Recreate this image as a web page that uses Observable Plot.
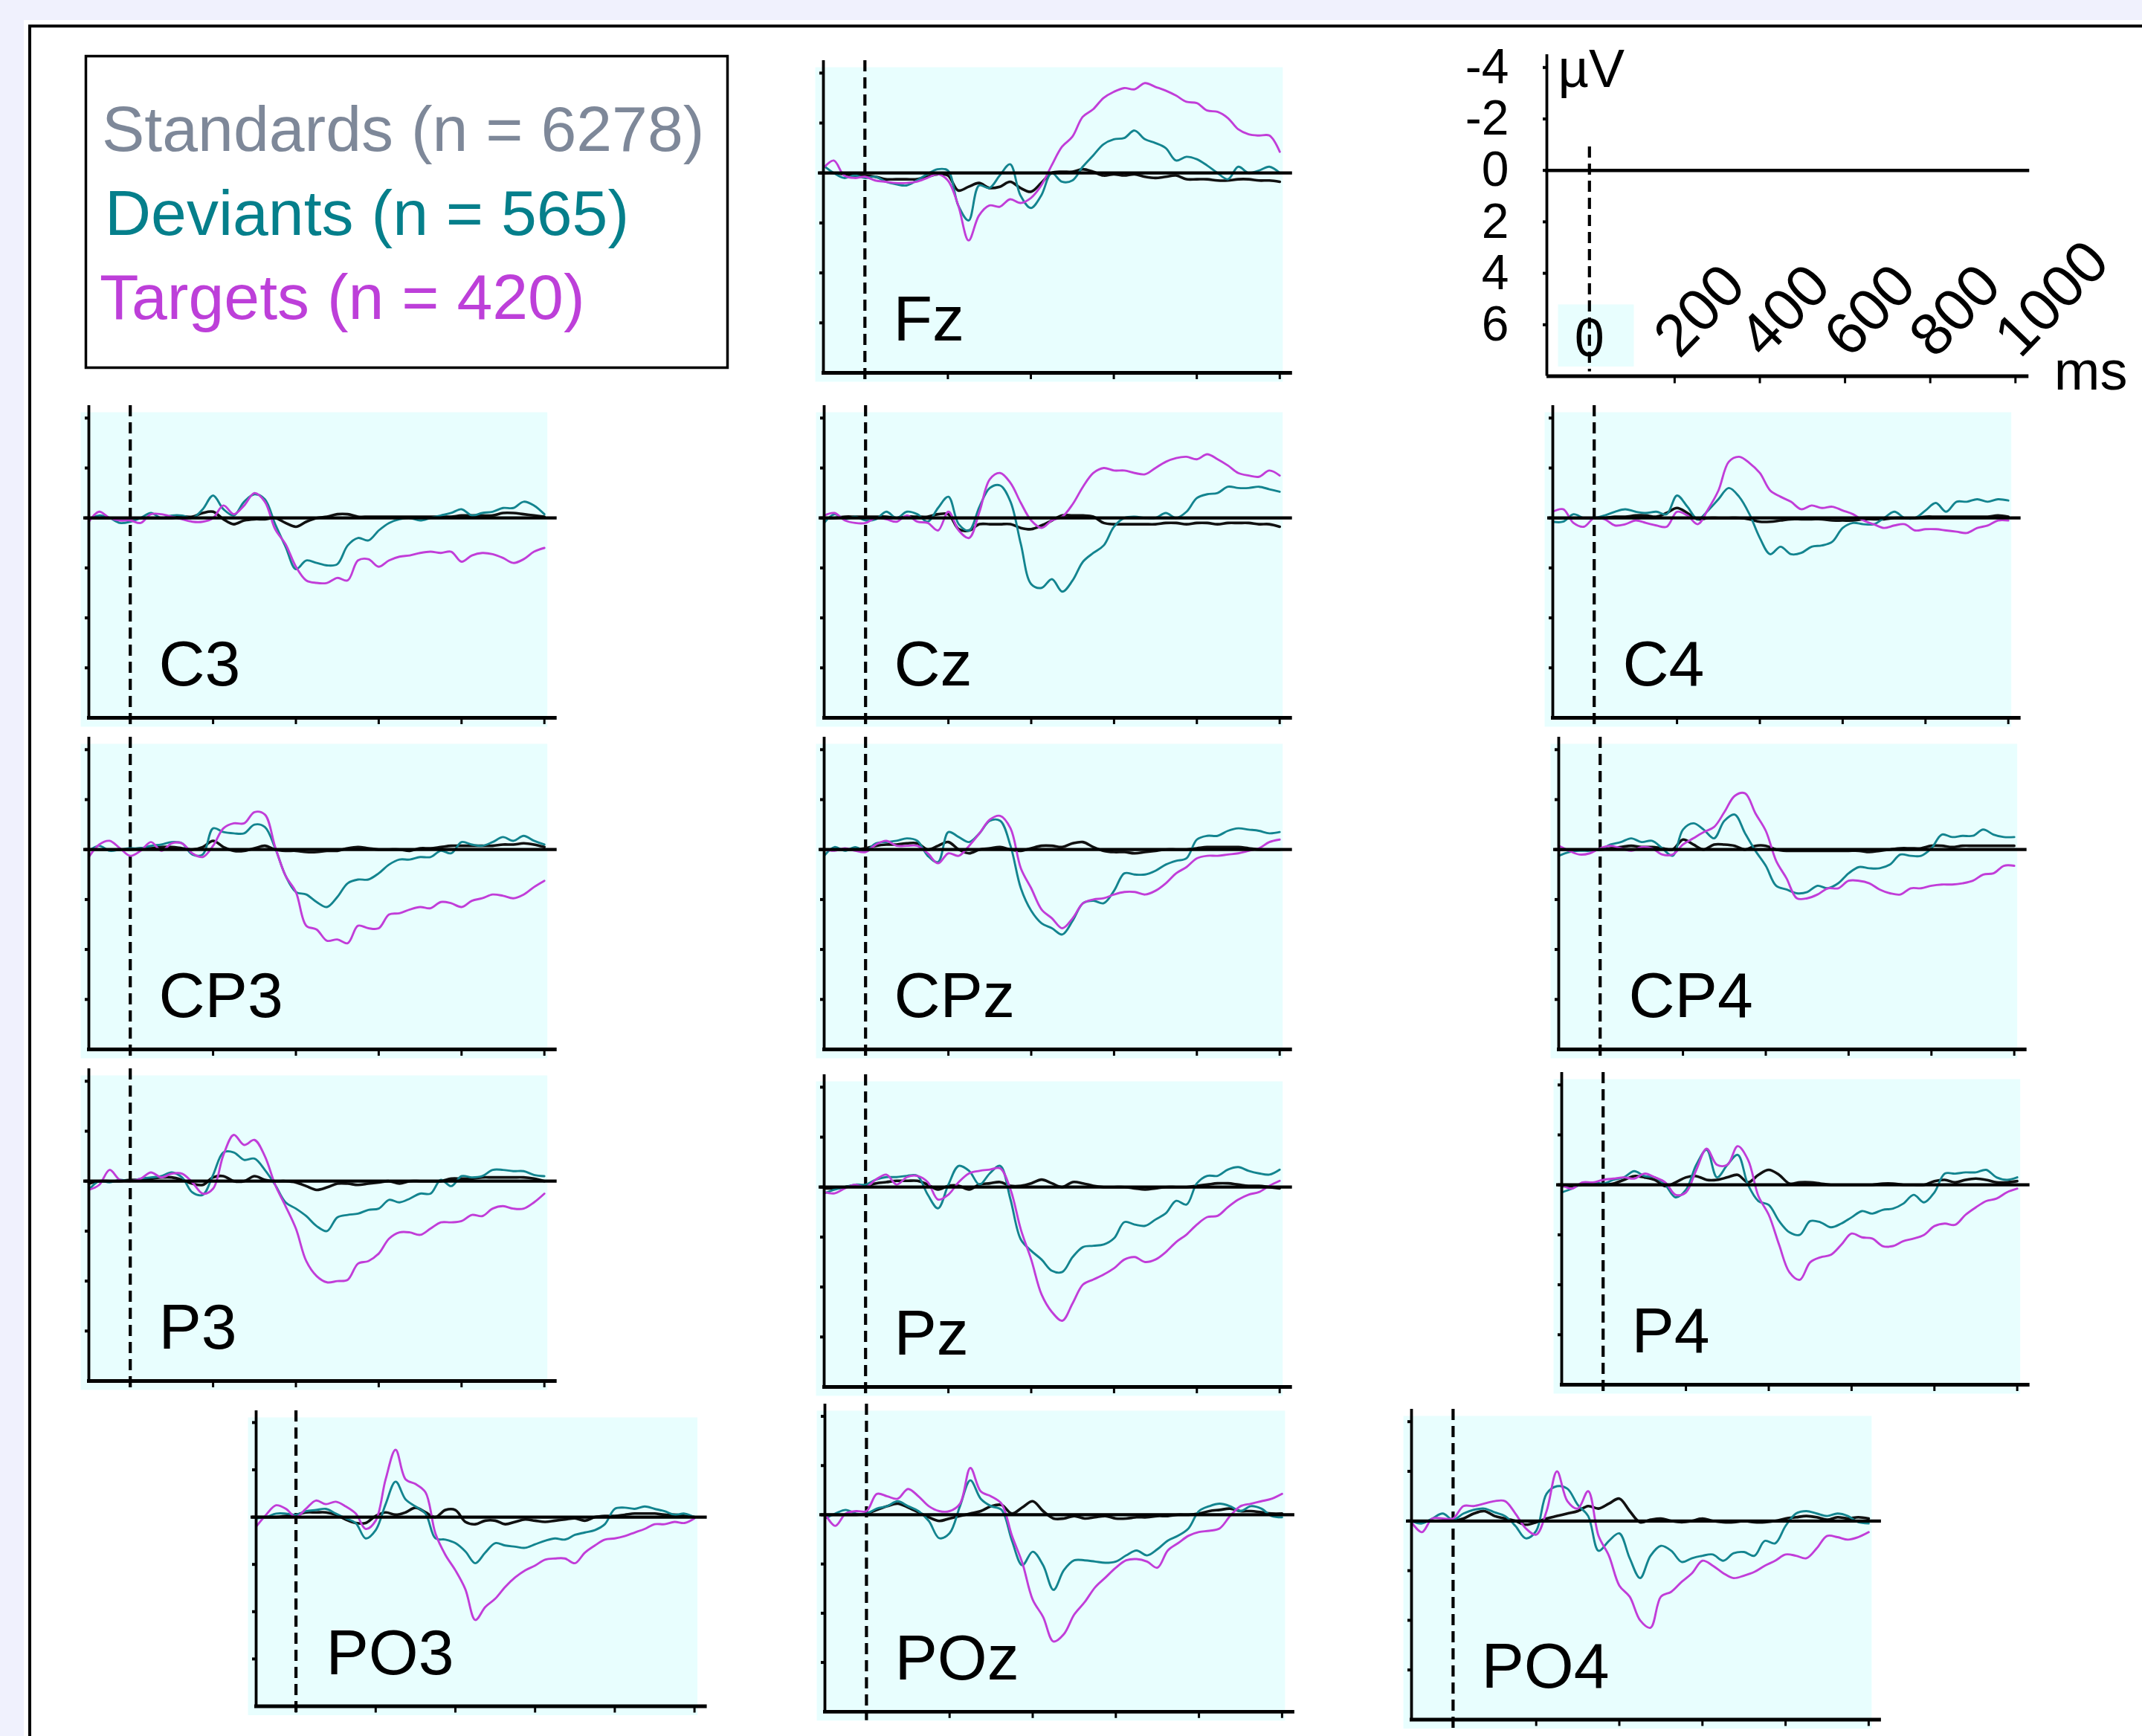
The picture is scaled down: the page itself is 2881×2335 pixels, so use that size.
<!DOCTYPE html>
<html><head><meta charset="utf-8">
<script src="https://cdn.jsdelivr.net/npm/d3@7"></script>
<script src="https://cdn.jsdelivr.net/npm/@observablehq/plot@0.6"></script>
<style>
html,body{margin:0;padding:0;background:#f0f1fd;}
#page{position:relative;width:2881px;height:2335px;overflow:hidden;background:#f0f1fd;font-family:"Liberation Sans",Arial,Helvetica,sans-serif;}
#sheet{position:absolute;left:32px;top:27px;right:-20px;bottom:-20px;background:#fff;}
#border{position:absolute;left:38px;top:33px;right:-20px;bottom:-20px;border-left:4px solid #000;border-top:4px solid #000;}
</style></head>
<body><div id="page"><div id="sheet"></div><div id="border"></div></div>
<script>
// ---- sample times (ms) and axis values ----
const TIMES = [-100,-75,-50,-25,0,25,50,75,100,125,150,175,200,225,250,275,300,325,350,375,400,425,450,475,500,525,550,575,600,625,650,675,700,725,750,775,800,825,850,875,900,925,950,975,1000];
const X_DOMAIN = [-100, 1000];
const Y_DOMAIN = [8, -4.5];
const X_TICKS = [0, 200, 400, 600, 800, 1000];
const Y_TICKS = [-4, -2, 0, 2, 4, 6];
const SERIES = ["Standards", "Deviants", "Targets"];
const COUNTS = [6278, 565, 420];

// ---- amplitudes (µV) per electrode: standards / deviants / targets ----
const FZ_STD = [0,0,0.05,0.1,0.1,0.15,0.25,0.25,0.25,0.25,0.15,0.05,0.1,0.7,0.55,0.4,0.6,0.55,0.35,0.6,0.75,0.4,0,-0.05,-0.05,-0.15,-0.05,0.1,0.05,0.1,0.05,0.15,0.2,0.15,0.1,0.25,0.25,0.25,0.3,0.3,0.25,0.25,0.3,0.3,0.35];
const FZ_DEV = [-0.3,0,0.2,0.1,0.2,0.15,0.35,0.45,0.5,0.3,0.05,-0.15,-0.1,1.3,1.9,0.5,0.6,0.1,-0.35,0.9,1.4,0.9,0,0.35,0.3,-0.25,-0.7,-1.15,-1.35,-1.4,-1.7,-1.35,-1.2,-1.0,-0.5,-0.65,-0.55,-0.3,0,0.25,-0.25,0,-0.1,-0.25,0];
const FZ_TGT = [-0.2,-0.5,0.1,0.2,0.15,0.3,0.35,0.4,0.4,0.35,0.2,0.05,0.3,1.3,2.7,1.7,1.3,1.35,1.05,1.2,1.0,0.5,-0.3,-1.05,-1.45,-2.25,-2.55,-3.0,-3.25,-3.4,-3.35,-3.6,-3.45,-3.3,-3.1,-2.85,-2.8,-2.5,-2.45,-2.2,-1.75,-1.55,-1.5,-1.5,-0.85];

const C3_STD = [0,0,0,0,0,0,0,0,0,-0.05,-0.05,-0.2,-0.25,0.05,0.25,0.1,0.05,0.05,0,0.2,0.35,0.15,0,-0.05,-0.15,-0.15,-0.05,-0.05,-0.05,-0.05,-0.05,-0.05,-0.05,-0.05,-0.05,-0.05,-0.1,-0.1,-0.1,-0.1,-0.2,-0.2,-0.15,-0.1,-0.05];
const C3_DEV = [0.05,-0.1,0,0.2,0.15,0,-0.2,0,-0.1,-0.1,0,-0.35,-0.9,-0.35,-0.1,-0.65,-0.95,-0.75,0.25,1.15,2.05,1.7,1.8,1.9,1.85,1.1,0.8,0.9,0.5,0.2,0.05,0,0.1,0,-0.1,-0.2,-0.35,-0.1,-0.2,-0.25,-0.4,-0.4,-0.65,-0.5,-0.15];
const C3_TGT = [0.15,-0.25,0,0.1,0.1,0.2,-0.15,-0.15,-0.05,0.05,0.15,0.15,0,-0.5,-0.15,-0.5,-1.0,-0.65,0.45,1.05,1.95,2.5,2.6,2.6,2.4,2.5,1.7,1.65,1.95,1.7,1.55,1.5,1.4,1.35,1.4,1.35,1.75,1.5,1.4,1.45,1.6,1.8,1.65,1.35,1.2];

const CZ_STD = [0,0,-0.05,-0.05,-0.05,-0.05,-0.05,0,-0.05,-0.05,-0.05,-0.15,-0.15,0.45,0.5,0.25,0.25,0.25,0.25,0.4,0.45,0.3,0.1,-0.1,-0.1,-0.1,-0.05,0.2,0.25,0.25,0.25,0.25,0.25,0.2,0.2,0.25,0.2,0.2,0.25,0.2,0.2,0.2,0.25,0.25,0.35];
const CZ_DEV = [0.2,-0.15,0.05,-0.05,0.1,0.05,-0.25,0,-0.25,-0.15,0.15,-0.4,-0.85,0.25,0.5,-0.45,-1.2,-1.3,-0.65,1.05,2.65,2.8,2.45,2.95,2.5,1.75,1.4,1.1,0.35,0,-0.05,0,0,-0.2,0,-0.25,-0.8,-0.95,-1.0,-1.25,-1.2,-1.2,-1.25,-1.15,-1.05];
const CZ_TGT = [-0.1,-0.2,0.1,0.2,0.2,0,0.05,0.15,-0.1,0.15,0.2,0.5,-0.25,0.5,0.8,-0.25,-1.55,-1.8,-1.4,-0.6,0.1,0.4,0.1,-0.05,-0.55,-1.25,-1.8,-2.0,-1.9,-1.9,-1.8,-1.75,-2.0,-2.25,-2.4,-2.45,-2.35,-2.55,-2.35,-2.1,-1.8,-1.7,-1.65,-1.9,-1.7];

const C4_STD = [0,0,0,0,0,0,-0.05,-0.05,-0.1,-0.1,-0.05,-0.2,-0.4,-0.2,0.05,0,0,0,0,0.05,0.15,0.15,0.1,0.05,0.05,0.05,0.05,0.1,0.1,0.1,0.05,0.05,0.05,0,0,0,-0.05,-0.05,-0.05,-0.05,-0.05,-0.05,-0.05,-0.1,-0.05];
const C4_DEV = [0.15,0.15,-0.15,0,0,-0.1,-0.25,-0.35,-0.25,-0.2,-0.25,-0.15,-0.9,-0.45,0.05,-0.3,-0.75,-1.2,-0.85,-0.15,0.8,1.45,1.15,1.45,1.4,1.15,1.1,0.95,0.4,0.2,0.25,0.25,0,-0.25,0,0,-0.3,-0.6,-0.25,-0.65,-0.65,-0.75,-0.65,-0.75,-0.7];
const C4_TGT = [-0.25,-0.35,0.2,0.35,0,0.05,0.3,0.25,0.1,0.2,0.3,0.35,-0.25,-0.1,0.25,-0.35,-1.1,-2.25,-2.45,-2.2,-1.8,-1.1,-0.85,-0.65,-0.35,-0.5,-0.4,-0.45,-0.3,-0.15,0.1,0.25,0.4,0.3,0.25,0.5,0.45,0.45,0.5,0.55,0.6,0.4,0.3,0.1,0.1];

const CP3_STD = [0,0,0,0,0,-0.05,-0.05,-0.1,-0.1,-0.05,0,-0.1,-0.35,-0.1,0.05,0.05,-0.05,-0.15,0,0.05,0.05,0.1,0.1,0.05,0.05,-0.05,-0.1,-0.05,0,0,0,0.05,-0.05,-0.05,-0.1,-0.15,-0.15,-0.15,-0.15,-0.15,-0.2,-0.2,-0.25,-0.2,-0.1];
const CP3_DEV = [0.05,-0.15,0.05,0,-0.05,-0.05,-0.15,-0.2,-0.3,-0.25,0.2,0.2,-0.85,-0.7,-0.65,-0.65,-1.0,-0.9,-0.05,1.05,1.7,1.8,2.1,2.3,1.9,1.35,1.2,1.2,0.95,0.6,0.4,0.4,0.3,0.3,0.05,0.15,-0.3,-0.2,-0.15,-0.3,-0.5,-0.35,-0.55,-0.35,-0.2];
const CP3_TGT = [0.3,-0.2,-0.35,-0.05,0.25,0.05,-0.3,0.05,-0.25,-0.25,0.15,0.3,-0.15,-0.85,-1.05,-1.05,-1.5,-1.4,-0.1,1.05,1.7,3.05,3.2,3.65,3.6,3.75,3.05,3.15,3.15,2.6,2.55,2.4,2.3,2.35,2.1,2.15,2.3,2.05,1.95,1.8,1.85,1.95,1.8,1.5,1.25];

const CPZ_STD = [0,0,0,0,-0.05,-0.15,-0.2,-0.2,-0.25,-0.25,0,-0.15,-0.3,0,0.15,0,-0.05,-0.1,0,0.05,-0.05,-0.15,-0.15,-0.1,-0.25,-0.3,-0.1,0.05,0.1,0.1,0.15,0.1,0.05,0,0,0,-0.05,-0.1,-0.1,-0.1,-0.1,-0.05,0,0,0];
const CPZ_DEV = [0.25,-0.1,0.05,-0.1,0.05,-0.25,-0.3,-0.35,-0.45,-0.35,0.25,0.5,-0.7,-0.5,-0.3,-0.65,-1.15,-1.15,-0.15,1.55,2.45,2.95,3.15,3.4,2.85,2.15,2.05,2.15,1.65,0.95,1.0,1.0,0.85,0.6,0.45,0.35,-0.4,-0.55,-0.55,-0.75,-0.85,-0.8,-0.75,-0.65,-0.7];
const CPZ_TGT = [0,0.05,-0.05,0.05,0.1,-0.2,-0.35,-0.15,-0.15,-0.15,0.15,0.55,0.15,0.25,-0.15,-0.65,-1.2,-1.35,-0.85,0.75,1.55,2.4,2.75,3.15,2.75,2.15,2.0,1.95,1.8,1.7,1.7,1.8,1.65,1.35,0.95,0.7,0.35,0.25,0.25,0.2,0.15,0.05,-0.05,-0.3,-0.4];

const CP4_STD = [0,0,0,0,0,-0.05,-0.1,-0.15,-0.1,-0.1,-0.05,0,-0.4,-0.2,0,-0.2,-0.2,-0.15,0,-0.15,-0.15,0,0.05,0.05,0.05,0.05,0.05,0.05,0.05,0.05,0.1,0.05,0,-0.05,-0.05,-0.05,-0.15,-0.15,-0.1,-0.15,-0.15,-0.15,-0.15,-0.15,-0.15];
const CP4_DEV = [0.25,0.1,0.05,0.05,0,-0.2,-0.3,-0.45,-0.3,-0.35,-0.05,0.25,-0.8,-1.05,-0.8,-0.45,-1.15,-1.4,-0.65,0.05,0.65,1.45,1.6,1.75,1.7,1.45,1.55,1.35,0.95,0.7,0.75,0.75,0.6,0.2,0.25,0.25,-0.05,-0.6,-0.5,-0.55,-0.55,-0.8,-0.6,-0.5,-0.5];
const CP4_TGT = [-0.15,0.05,0.2,0.15,-0.05,-0.15,-0.05,0.05,-0.1,-0.05,0.2,0.2,-0.2,-0.45,-0.7,-0.9,-1.5,-2.15,-2.25,-1.45,-0.75,0.45,1.15,1.95,1.95,1.8,1.55,1.55,1.25,1.25,1.35,1.6,1.75,1.8,1.55,1.55,1.45,1.4,1.4,1.35,1.25,1.0,0.95,0.65,0.65];

const P3_STD = [0.1,0,0,0,-0.05,-0.05,-0.1,-0.15,-0.15,-0.05,0.1,0.15,-0.15,-0.2,0,0,-0.2,-0.05,0,0,0.05,0.2,0.35,0.25,0.1,0.1,0.15,0.1,0.05,0,0.1,0,0,0,0,-0.1,-0.1,-0.1,-0.15,-0.15,-0.15,-0.15,-0.15,-0.1,0];
const P3_DEV = [0.35,0,0.05,-0.05,0,-0.1,-0.15,-0.2,-0.35,-0.15,0.45,0.55,-0.25,-1.15,-1.15,-0.85,-0.9,-0.45,0.15,0.85,1.1,1.4,1.8,2.0,1.45,1.35,1.3,1.15,1.1,0.75,0.85,0.7,0.5,0.5,-0.05,0.2,-0.2,-0.15,-0.2,-0.45,-0.45,-0.4,-0.4,-0.25,-0.2];
const P3_TGT = [0.35,0.15,-0.45,-0.05,0,-0.1,-0.35,-0.15,-0.3,-0.3,0.05,0.5,0.3,-1.05,-1.85,-1.45,-1.65,-1.0,0.15,1.0,1.9,3.2,3.8,4.05,4.0,3.95,3.3,3.2,2.9,2.3,2.05,2.05,2.15,1.9,1.65,1.65,1.6,1.35,1.4,1.1,1.0,1.1,1.1,0.85,0.5];

const PZ_STD = [0.05,0.05,0,-0.05,-0.05,-0.15,-0.2,-0.25,-0.25,-0.25,-0.1,0.1,-0.05,-0.05,0.1,-0.1,-0.15,-0.2,-0.05,-0.05,-0.15,-0.3,-0.15,0,-0.2,-0.15,-0.05,0,0,0,0.05,0.1,0.05,0,0,0,-0.05,-0.1,-0.15,-0.15,-0.1,-0.05,-0.05,0,0.05];
const PZ_DEV = [0.25,0.1,0,-0.1,-0.1,-0.3,-0.4,-0.4,-0.45,-0.45,0.3,0.85,-0.1,-0.85,-0.65,-0.1,-0.55,-0.85,0.5,2.1,2.55,2.9,3.35,3.4,2.8,2.4,2.35,2.3,2.05,1.4,1.5,1.55,1.3,1.05,0.55,0.7,-0.15,-0.45,-0.45,-0.7,-0.8,-0.65,-0.55,-0.5,-0.7];
const PZ_TGT = [0.2,0.25,0.05,-0.1,0,-0.3,-0.5,-0.1,-0.4,-0.45,-0.2,0.5,0.3,-0.2,-0.55,-0.65,-0.7,-0.75,0.1,1.7,2.9,4.3,5.0,5.35,4.65,3.9,3.7,3.5,3.25,2.9,2.8,3.0,2.9,2.6,2.2,1.9,1.5,1.2,1.15,0.8,0.5,0.3,0.2,-0.05,-0.25];

const P4_STD = [0.05,0.05,0,0,0,-0.05,-0.2,-0.35,-0.3,-0.2,0.05,-0.1,-0.3,-0.35,-0.2,-0.2,-0.3,-0.4,-0.1,-0.4,-0.6,-0.4,-0.05,-0.1,-0.1,-0.05,0,0,0,0,0,-0.05,-0.05,0,0,0,-0.15,-0.2,-0.1,-0.2,-0.25,-0.2,-0.1,-0.1,-0.15];
const P4_DEV = [0.3,0.15,-0.05,-0.1,-0.05,-0.2,-0.3,-0.55,-0.35,-0.3,0,0.5,0.2,-0.8,-1.4,-0.3,-0.8,-1.2,0,0.65,0.8,1.45,1.9,2.0,1.45,1.5,1.7,1.55,1.3,1.05,1.15,1.0,0.95,0.75,0.4,0.7,0.3,-0.45,-0.45,-0.5,-0.5,-0.6,-0.3,-0.2,-0.3];
const P4_TGT = [0,0.15,-0.1,-0.1,-0.2,-0.25,-0.3,-0.25,-0.45,-0.3,-0.1,0.4,0.3,-0.6,-1.45,-0.8,-0.8,-1.55,-1.0,0.45,1.2,2.4,3.5,3.8,3.1,2.9,2.8,2.4,1.95,2.1,2.15,2.45,2.45,2.25,2.15,2.0,1.65,1.55,1.6,1.2,0.9,0.65,0.55,0.3,0.15];

const PO3_STD = [0,0,0,-0.05,-0.1,-0.2,-0.2,-0.2,-0.1,0.1,0.25,0.25,-0.05,-0.2,-0.1,-0.2,-0.4,-0.2,0,-0.3,-0.3,0.2,0.3,0.15,0.15,0.3,0.2,0.1,0.15,0.2,0.15,0.1,0.05,0.15,0,-0.05,-0.05,-0.1,-0.15,-0.15,-0.15,-0.1,-0.1,-0.05,0];
const PO3_DEV = [0.05,0,-0.15,-0.15,-0.1,-0.25,-0.3,-0.35,-0.15,0.05,0.25,0.9,0.55,-0.55,-1.5,-0.75,-0.45,-0.15,0.9,0.95,1.1,1.45,1.95,1.5,1.1,1.2,1.25,1.3,1.15,1.0,0.9,0.95,0.75,0.65,0.55,0.3,-0.35,-0.4,-0.35,-0.45,-0.35,-0.25,-0.1,-0.15,0];
const PO3_TGT = [0.4,-0.1,-0.5,-0.35,0,-0.35,-0.7,-0.55,-0.65,-0.45,-0.15,0.5,0.15,-1.6,-2.85,-1.6,-1.4,-1.05,0.7,1.6,2.25,3.05,4.35,3.8,3.45,2.95,2.55,2.25,2.05,1.8,1.75,1.75,1.95,1.5,1.2,0.95,0.9,0.8,0.65,0.5,0.3,0.3,0.2,0.25,0.05];

const POZ_STD = [0,0,0,0,-0.05,-0.2,-0.35,-0.45,-0.3,-0.1,0.1,0.25,0.15,0.05,-0.05,-0.15,-0.35,-0.4,-0.05,-0.3,-0.55,-0.15,0.15,0.15,0.05,0.15,0.1,0.05,0.15,0.15,0.1,0.1,0.05,0.05,0,0,-0.05,-0.15,-0.2,-0.25,-0.15,-0.15,-0.1,-0.05,-0.05];
const POZ_DEV = [0.15,-0.05,-0.2,-0.05,-0.05,-0.25,-0.35,-0.55,-0.35,-0.15,0.25,0.95,0.75,-0.35,-1.4,-0.65,-0.35,-0.2,1.05,2.05,1.5,2.05,3.05,2.25,1.85,1.85,1.9,1.95,1.9,1.65,1.45,1.65,1.4,1.05,0.85,0.55,-0.15,-0.35,-0.45,-0.35,-0.15,-0.35,-0.25,0.05,0.1];
const POZ_TGT = [-0.05,0.45,-0.05,-0.15,-0.15,-0.85,-0.75,-0.65,-1.05,-0.75,-0.35,-0.15,-0.15,-0.45,-1.9,-0.95,-0.75,-0.45,0.85,1.95,3.45,4.15,5.15,4.85,4.05,3.55,2.95,2.55,2.15,1.85,1.8,1.9,2.15,1.45,1.15,0.85,0.7,0.65,0.55,0.05,-0.35,-0.45,-0.55,-0.65,-0.85];

const PO4_STD = [0,0,0,0,0,-0.1,-0.3,-0.4,-0.2,-0.1,0,0.15,0.05,-0.1,-0.2,-0.3,-0.4,-0.6,-0.5,-0.7,-0.9,-0.4,0.05,-0.05,-0.1,0,0.05,0,-0.1,0,0.05,0.05,0,0.05,0.05,0,-0.1,-0.15,-0.2,-0.15,-0.05,-0.15,-0.1,-0.15,-0.1];
const PO4_DEV = [0,0.1,-0.1,-0.3,-0.05,-0.3,-0.45,-0.5,-0.35,-0.2,0.2,0.7,0.4,-1.1,-1.4,-1.3,-0.65,-0.2,1.2,0.8,0.5,1.5,2.3,1.4,1.0,1.2,1.65,1.5,1.4,1.35,1.6,1.3,1.25,1.4,0.8,0.9,0.2,-0.3,-0.4,-0.3,-0.2,-0.3,-0.2,0.05,0.1];
const PO4_TGT = [0.05,0.45,-0.1,-0.1,-0.1,-0.6,-0.6,-0.7,-0.8,-0.8,-0.3,0.3,0.55,-0.4,-2.0,-0.8,-0.5,-1.2,0.6,1.4,2.6,3.05,4.0,4.3,3.05,2.85,2.45,2.1,1.6,1.8,2.1,2.3,2.2,2.05,1.8,1.6,1.35,1.4,1.5,1.1,0.6,0.65,0.75,0.65,0.45];

// ---- styling / layout ----
const LINE_COLORS = ["#111111", "#13848f", "#c13dd8"];
const LEGEND_COLORS = ["#7e8899", "#057f8b", "#bd3fd9"];
const LINE_WIDTHS = [3.6, 2.9, 2.9];
const CYAN = "#e8fefe";
const FONT = "'Liberation Sans', Arial, Helvetica, sans-serif";
// panel frame: [left, top, width, height] in page pixels
const LAYOUT = {
  Fz:  [1107.2, 80.8, 613.8, 420],
  C3:  [119.2, 544.8, 612.7, 420],
  Cz:  [1108, 544.8, 612.7, 420],
  C4:  [2088, 544.8, 612.7, 420],
  CP3: [119.2, 991.4, 612.7, 420],
  CPz: [1108, 991.4, 612.7, 420],
  CP4: [2096.3, 991.4, 612.7, 420],
  P3:  [119.2, 1437.4, 612.7, 420],
  Pz:  [1108, 1444.5, 612.7, 420],
  P4:  [2099.7, 1441.8, 612.7, 420],
  PO3: [344.4, 1896.9, 589.6, 397.5],
  POz: [1109.1, 1888, 614.9, 413.8],
  PO4: [1898, 1895.2, 614.9, 417.5],
  scale: [2079.7, 73.1, 630.3, 432.5]
};

const PANELS = [
  ["Fz", FZ_STD, FZ_DEV, FZ_TGT],
  ["C3", C3_STD, C3_DEV, C3_TGT],
  ["Cz", CZ_STD, CZ_DEV, CZ_TGT],
  ["C4", C4_STD, C4_DEV, C4_TGT],
  ["CP3", CP3_STD, CP3_DEV, CP3_TGT],
  ["CPz", CPZ_STD, CPZ_DEV, CPZ_TGT],
  ["CP4", CP4_STD, CP4_DEV, CP4_TGT],
  ["P3", P3_STD, P3_DEV, P3_TGT],
  ["Pz", PZ_STD, PZ_DEV, PZ_TGT],
  ["P4", P4_STD, P4_DEV, P4_TGT],
  ["PO3", PO3_STD, PO3_DEV, PO3_TGT],
  ["POz", POZ_STD, POZ_DEV, POZ_TGT],
  ["PO4", PO4_STD, PO4_DEV, PO4_TGT]
];

const page = document.getElementById("page");
const svgStyle = `background: transparent; overflow: visible; max-width: none; font-family: ${FONT};`;
const DASH = "15,8";

function place(fig, left, top) {
  fig.style.position = "absolute";
  fig.style.left = left + "px";
  fig.style.top = top + "px";
  page.appendChild(fig);
}

function rows(values) {
  return TIMES.map((t, i) => ({t, v: values[i]}));
}

PANELS.forEach(([name, ...series]) => {
  const [left, top, w, h] = LAYOUT[name];
  const ML = 30, MR = 40, MT = 12, MB = 30;
  const fig = Plot.plot({
    width: ML + w + MR, height: MT + h + MB,
    marginLeft: ML, marginRight: MR, marginTop: MT, marginBottom: MB,
    style: svgStyle,
    x: {domain: X_DOMAIN},
    y: {domain: Y_DOMAIN},
    marks: [
      Plot.frame({fill: CYAN, stroke: "none", insetLeft: -11, insetRight: -4, insetTop: 9, insetBottom: -12}),
      Plot.ruleX([0], {stroke: "#000", strokeWidth: 4.2, strokeDasharray: DASH, insetBottom: -12}),
      ...series.map((s, k) => Plot.line(rows(s), {x: "t", y: "v", stroke: LINE_COLORS[k], strokeWidth: LINE_WIDTHS[k], curve: "catmull-rom"})),
      Plot.ruleY([0], {stroke: "#000", strokeWidth: 4.2, insetLeft: -7, insetRight: -17}),
      Plot.ruleX([X_DOMAIN[0]], {stroke: "#000", strokeWidth: 3.8}),
      Plot.ruleY([Y_DOMAIN[0]], {stroke: "#000", strokeWidth: 4.8, insetLeft: -2, insetRight: -17}),
      Plot.axisX({ticks: X_TICKS, tickSize: 9, strokeWidth: 3, tickFormat: () => "", label: null}),
      Plot.axisY({ticks: Y_TICKS, tickSize: 5, strokeWidth: 4, tickFormat: () => "", label: null}),
      Plot.text([name], {text: d => d, frameAnchor: "bottom-left", dx: 94, dy: -43, lineAnchor: "bottom", textAnchor: "start", fontSize: 86, fill: "#000"})
    ]
  });
  place(fig, left - ML, top - MT);
});

// ---- scale / key panel ----
(() => {
  const [left, top, w, h] = LAYOUT.scale;
  const ML = 150, MR = 160, MT = 12, MB = 40;
  const fig = Plot.plot({
    width: ML + w + MR, height: MT + h + MB,
    marginLeft: ML, marginRight: MR, marginTop: MT, marginBottom: MB,
    style: svgStyle,
    x: {domain: X_DOMAIN},
    y: {domain: Y_DOMAIN},
    marks: [
      Plot.frame({fill: CYAN, stroke: "none", insetLeft: 15, insetRight: w - 117, insetTop: 336, insetBottom: 13}),
      Plot.ruleY([0], {stroke: "#000", strokeWidth: 4.5, insetLeft: -2, insetRight: -19}),
      Plot.ruleX([X_DOMAIN[0]], {stroke: "#000", strokeWidth: 3.8}),
      Plot.ruleY([Y_DOMAIN[0]], {stroke: "#000", strokeWidth: 4.8, insetRight: -18}),
      Plot.axisY({ticks: Y_TICKS, tickSize: 5, tickPadding: 46, strokeWidth: 4, fontSize: 66, tickFormat: d => String(d), label: null}),
      Plot.axisX({ticks: X_TICKS.slice(1), tickSize: 10, strokeWidth: 3, tickFormat: () => "", label: null}),
      Plot.ruleX([0], {stroke: "#000", strokeWidth: 4.2, strokeDasharray: DASH, insetTop: 124, insetBottom: 6}),
      Plot.text(X_TICKS.slice(0, 1), {x: d => d, text: d => String(d), frameAnchor: "bottom", dy: -27, lineAnchor: "bottom", textAnchor: "middle", fontSize: 72}),
      Plot.text(X_TICKS.slice(1), {x: d => d, text: d => String(d), frameAnchor: "bottom", dx: 6, dy: -22, rotate: -46, lineAnchor: "bottom", textAnchor: "start", fontSize: 80}),
      Plot.text(["µV"], {text: d => d, frameAnchor: "top-left", dx: 15, dy: 44, lineAnchor: "bottom", textAnchor: "start", fontSize: 72}),
      Plot.text(["ms"], {text: d => d, frameAnchor: "bottom-right", dx: 52, dy: 18, lineAnchor: "bottom", textAnchor: "start", fontSize: 74})
    ]
  });
  place(fig, left - ML, top - MT);
})();

// ---- legend ----
(() => {
  const LEG_X = [137, 141, 134];
  const LEG_Y = [203, 316, 429];
  const leg = d3.select(page).append("svg")
    .attr("width", 1000).attr("height", 520)
    .style("position", "absolute").style("left", "0px").style("top", "0px").style("overflow", "visible");
  leg.append("rect").attr("x", 115.5).attr("y", 75.5).attr("width", 863).attr("height", 419)
    .attr("fill", "#fff").attr("stroke", "#000").attr("stroke-width", 3.5);
  SERIES.forEach((s, i) => {
    leg.append("text").attr("x", LEG_X[i]).attr("y", LEG_Y[i])
      .attr("fill", LEGEND_COLORS[i]).attr("font-size", 86).attr("font-family", FONT)
      .text(`${s} (n = ${COUNTS[i]})`);
  });
})();
</script>
</body></html>
